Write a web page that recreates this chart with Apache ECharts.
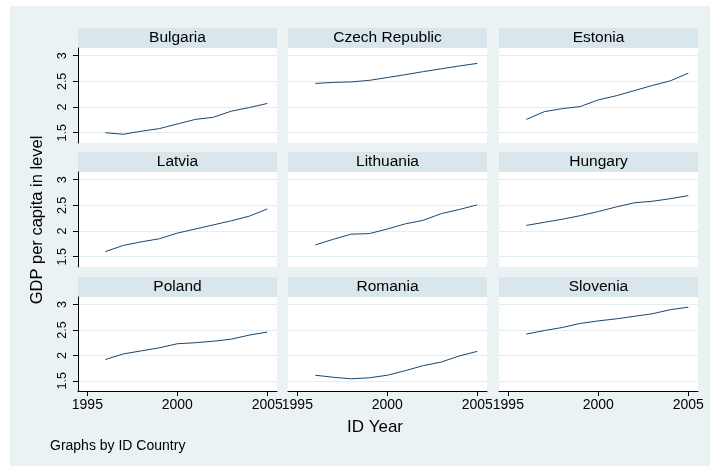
<!DOCTYPE html>
<html>
<head>
<meta charset="utf-8">
<script src="https://cdn.jsdelivr.net/npm/echarts@6/dist/echarts.min.js"></script>
<style>
html,body{margin:0;padding:0;background:#fff;overflow:hidden;}
#panel_chart{width:710px;height:466px;}
</style>
</head>
<body>
<div id="panel_chart"></div>
<script>
// data
let years=[1996,1997,1998,1999,2000,2001,2002,2003,2004,2005];
let countries=["Bulgaria","Czech Republic","Estonia","Latvia","Lithuania","Hungary","Poland","Romania","Slovenia"];
let bulgaria=[1.50,1.47,1.53,1.58,1.67,1.76,1.80,1.92,1.99,2.07];
let czech=[2.46,2.48,2.49,2.52,2.575,2.63,2.69,2.745,2.80,2.85];
let estonia=[1.76,1.91,1.97,2.01,2.14,2.22,2.32,2.42,2.51,2.66];
let latvia=[1.60,1.72,1.79,1.85,1.96,2.04,2.12,2.20,2.29,2.43];
let lithuania=[1.73,1.84,1.94,1.95,2.04,2.14,2.21,2.34,2.42,2.51];
let hungary=[2.11,2.17,2.23,2.30,2.38,2.47,2.55,2.58,2.63,2.69];
let poland=[1.92,2.03,2.09,2.15,2.23,2.25,2.28,2.32,2.40,2.46];
let romania=[1.61,1.57,1.54,1.56,1.61,1.70,1.80,1.87,1.99,2.08];
let slovenia=[2.42,2.49,2.55,2.63,2.68,2.72,2.77,2.82,2.90,2.95];
let yTicks=[1.5,2,2.5,3];
let xTicks=[1995,2000,2005];

let values=[bulgaria,czech,estonia,latvia,lithuania,hungary,poland,romania,slovenia];

// layout
let colLeft=[78,288,499];
let colWidth=199;
let plotTop=[48,172,297];
let plotHeight=[95,95,94];
let stripHeight=20;
let font="Liberation Sans";

let chart=echarts.init(document.getElementById('panel_chart'));

let grids=[],xAxes=[],yAxes=[],series=[];
let graphics=[{
	type:"rect",
	z:-10,
	shape:{x:10,y:6,width:700,height:460},
	style:{fill:"#eaf2f3"},
}];

for(let i=0;i<9;i++){
	let row=Math.floor(i/3),col=i%3;
	grids.push({
		left:colLeft[col],
		top:plotTop[row],
		width:colWidth,
		height:plotHeight[row],
		show:true,
		backgroundColor:"#fff",
		borderWidth:0,
		outerBoundsMode:"none",
	});
	xAxes.push({
		type:"value",
		gridIndex:i,
		min:1994.48,
		max:2005.54,
		axisLine:{show:row==2,onZero:false,lineStyle:{color:"#000",width:1}},
		axisTick:{show:row==2,length:5,customValues:xTicks,lineStyle:{color:"#000"}},
		axisLabel:{
			show:row==2,
			customValues:xTicks,
			formatter:function(v){return String(v);},
			margin:7,
			color:"#000",
			fontSize:14,
			fontFamily:font,
		},
		splitLine:{show:false},
	});
	yAxes.push({
		type:"value",
		gridIndex:i,
		min:1.3,
		max:3.15,
		axisLine:{show:col==0,onZero:false,lineStyle:{color:"#000",width:1}},
		axisTick:{show:col==0,length:5,customValues:yTicks,lineStyle:{color:"#000"}},
		axisLabel:{
			show:col==0,
			customValues:yTicks,
			formatter:function(v){return String(v);},
			rotate:90,
			margin:9,
			color:"#000",
			fontSize:12.5,
			fontFamily:font,
		},
		splitLine:{show:true,lineStyle:{color:"#e4edf0",width:1}},
	});
	series.push({
		type:"line",
		name:countries[i],
		xAxisIndex:i,
		yAxisIndex:i,
		data:years.map(function(y,j){return [y,values[i][j]];}),
		symbol:"none",
		lineStyle:{color:"#1a476f",width:1},
		itemStyle:{color:"#1a476f"},
	});
	graphics.push({
		type:"rect",
		shape:{x:colLeft[col],y:plotTop[row]-stripHeight,width:colWidth,height:stripHeight},
		style:{fill:"#d9e6eb"},
	});
	graphics.push({
		type:"text",
		x:colLeft[col]+colWidth/2,
		y:plotTop[row]-stripHeight/2,
		style:{
			text:countries[i],
			fill:"#000",
			fontSize:15.5,
			fontFamily:font,
			textAlign:"center",
			textVerticalAlign:"middle",
		},
	});
}

graphics.push({
	type:"text",
	x:37,
	y:220,
	rotation:Math.PI/2,
	style:{
		text:"GDP per capita in level",
		fill:"#000",
		fontSize:16.5,
		fontFamily:font,
		textAlign:"center",
		textVerticalAlign:"middle",
	},
});
graphics.push({
	type:"text",
	x:375,
	y:427,
	style:{
		text:"ID Year",
		fill:"#000",
		fontSize:17,
		fontFamily:font,
		textAlign:"center",
		textVerticalAlign:"middle",
	},
});
graphics.push({
	type:"text",
	x:50,
	y:446,
	style:{
		text:"Graphs by ID Country",
		fill:"#000",
		fontSize:14,
		fontFamily:font,
		textAlign:"left",
		textVerticalAlign:"middle",
	},
});

chart.setOption({
	animation:false,
	grid:grids,
	xAxis:xAxes,
	yAxis:yAxes,
	series:series,
	graphic:graphics,
});
</script>
</body>
</html>
